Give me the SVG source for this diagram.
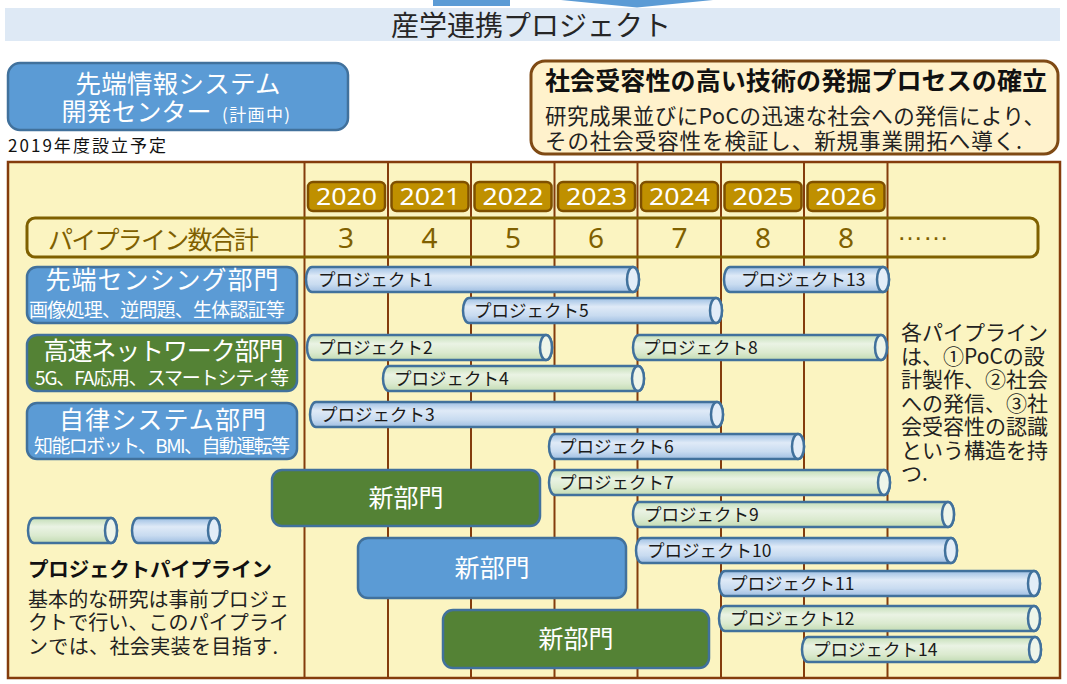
<svg xmlns="http://www.w3.org/2000/svg" width="1067" height="684" viewBox="0 0 1067 684">
<defs>
<linearGradient id="gB" x1="0" y1="0" x2="0" y2="1">
<stop offset="0" stop-color="#9dbfe3"/><stop offset="0.35" stop-color="#dfeaf7"/><stop offset="0.7" stop-color="#c8dbf0"/><stop offset="1" stop-color="#9fbee2"/>
</linearGradient>
<linearGradient id="gG" x1="0" y1="0" x2="0" y2="1">
<stop offset="0" stop-color="#c4deb7"/><stop offset="0.35" stop-color="#eaf3e4"/><stop offset="0.7" stop-color="#dbeacf"/><stop offset="1" stop-color="#c2dbb3"/>
</linearGradient>
<style>
text{font-family:"Noto Sans CJK JP","Noto Sans",sans-serif}
.pb{fill:url(#gB);stroke:#41719c;stroke-width:2.5}
.pg{fill:url(#gG);stroke:#41719c;stroke-width:2.5}
.cb{fill:#e3edf8;stroke:#41719c;stroke-width:2.5}
.cg{fill:#eef5ea;stroke:#41719c;stroke-width:2.5}
.pt{font-size:17.5px;fill:#1a1a1a}
.vl{stroke:#843c0c;stroke-width:2}
.dblue{fill:#5b9bd5;stroke:#41719c;stroke-width:2.5}
.dgreen{fill:#548235;stroke:#41719c;stroke-width:2.5}
.dt{font-size:25px;fill:#fff;text-anchor:middle}
.ds{font-size:19px;fill:#fff;text-anchor:middle}
.yb{fill:#bf9000;stroke:#7f5000;stroke-width:2.5}
.yt{font-size:23px;fill:#fff;text-anchor:middle;font-family:"Noto Sans",sans-serif}
.ct{font-size:28px;fill:#7f6000;text-anchor:middle;font-family:"Noto Sans",sans-serif}
.nt{font-size:25px;fill:#fff;text-anchor:middle}
.rt{font-size:21px;fill:#222}
.lt{font-size:20px;fill:#222}
</style>
</defs>

<g id="header">
<rect x="433" y="0" width="77" height="6" fill="#5b9bd5"/>
<polygon points="561,0 713,0 637,7.5" fill="#5b9bd5"/>
<rect x="5" y="8" width="1055" height="33" fill="#dee9f5"/>
<text x="531" y="36" font-size="28" fill="#262626" text-anchor="middle">産学連携プロジェクト</text>
</g>

<g id="center-box">
<rect x="8" y="63" width="340" height="67" rx="12" class="dblue"/>
<text x="178" y="93" font-size="25.5" fill="#fff" text-anchor="middle" textLength="205">先端情報システム</text>
<text x="61.5" y="120.5" font-size="25" fill="#fff">開発センター<tspan x="222" font-size="17" textLength="68">(計画中)</tspan></text>
<text x="8" y="152" font-size="17" fill="#111" textLength="158">2019年度設立予定</text>
</g>

<g id="goal-box">
<rect x="531" y="61" width="527" height="93" rx="14" fill="#fff2cc" stroke="#7f4a14" stroke-width="3"/>
<text x="545" y="90" font-size="25" font-weight="bold" fill="#111" textLength="502">社会受容性の高い技術の発掘プロセスの確立</text>
<text x="545" y="124" font-size="21.5" fill="#222" textLength="500">研究成果並びにPoCの迅速な社会への発信により、</text>
<text x="545" y="149" font-size="21.5" fill="#222" textLength="477">その社会受容性を検証し、新規事業開拓へ導く.</text>
</g>

<g id="panel">
<rect x="8" y="162" width="1052" height="516" fill="#fbf4c1" stroke="#843c0c" stroke-width="2.5"/>
<line class="vl" x1="304.5" y1="162" x2="304.5" y2="678"/>
<line class="vl" x1="388" y1="162" x2="388" y2="678"/>
<line class="vl" x1="471" y1="162" x2="471" y2="678"/>
<line class="vl" x1="554.5" y1="162" x2="554.5" y2="678"/>
<line class="vl" x1="637.5" y1="162" x2="637.5" y2="678"/>
<line class="vl" x1="721" y1="162" x2="721" y2="678"/>
<line class="vl" x1="804" y1="162" x2="804" y2="678"/>
<line class="vl" x1="887.5" y1="162" x2="887.5" y2="678"/>
</g>

<g id="years">
<rect class="yb" x="308" y="182" width="77" height="29" rx="5"/><text class="yt" x="346.5" y="205" textLength="61" lengthAdjust="spacingAndGlyphs">2020</text>
<rect class="yb" x="391.5" y="182" width="77" height="29" rx="5"/><text class="yt" x="430" y="205" textLength="61" lengthAdjust="spacingAndGlyphs">2021</text>
<rect class="yb" x="474.5" y="182" width="77" height="29" rx="5"/><text class="yt" x="513" y="205" textLength="61" lengthAdjust="spacingAndGlyphs">2022</text>
<rect class="yb" x="558" y="182" width="77" height="29" rx="5"/><text class="yt" x="596.5" y="205" textLength="61" lengthAdjust="spacingAndGlyphs">2023</text>
<rect class="yb" x="641" y="182" width="77" height="29" rx="5"/><text class="yt" x="679.5" y="205" textLength="61" lengthAdjust="spacingAndGlyphs">2024</text>
<rect class="yb" x="724.5" y="182" width="77" height="29" rx="5"/><text class="yt" x="763" y="205" textLength="61" lengthAdjust="spacingAndGlyphs">2025</text>
<rect class="yb" x="807.5" y="182" width="77" height="29" rx="5"/><text class="yt" x="846" y="205" textLength="61" lengthAdjust="spacingAndGlyphs">2026</text>
</g>

<g id="pipeline-count">
<rect x="27" y="218" width="1011" height="39" rx="8" fill="none" stroke="#7f6000" stroke-width="3"/>
<text x="48" y="249" font-size="25" fill="#7f6000" textLength="211">パイプライン数合計</text>
<text class="ct" x="346" y="248">3</text>
<text class="ct" x="429.5" y="248">4</text>
<text class="ct" x="513" y="248">5</text>
<text class="ct" x="596" y="248">6</text>
<text class="ct" x="679.5" y="248">7</text>
<text class="ct" x="763" y="248">8</text>
<text class="ct" x="846" y="248">8</text>
<text x="897" y="240" font-size="26" fill="#7f6000" style="font-family:'Liberation Sans',sans-serif">……</text>
</g>

<g id="dept-sensing">
<rect class="dblue" x="27" y="267" width="270" height="56" rx="10"/>
<text class="dt" x="162" y="289" textLength="233">先端センシング部門</text>
<text class="ds" x="157" y="317" textLength="256">画像処理、逆問題、生体認証等</text>
</g>
<g id="dept-network">
<rect class="dgreen" x="27" y="335" width="270" height="56" rx="10"/>
<text class="dt" x="163.5" y="360" textLength="240">高速ネットワーク部門</text>
<text class="ds" x="162" y="385" textLength="254">5G、FA応用、スマートシティ等</text>
</g>
<g id="dept-autonomous">
<rect class="dblue" x="27" y="403" width="270" height="56" rx="10"/>
<text class="dt" x="162.5" y="429" textLength="207">自律システム部門</text>
<text class="ds" x="162" y="453" textLength="256">知能ロボット、BMI、自動運転等</text>
</g>

<g id="new-dept-1">
<rect class="dgreen" x="272" y="470" width="268" height="56" rx="10"/>
<text class="nt" x="406" y="507">新部門</text>
</g>
<g id="new-dept-2">
<rect class="dblue" x="358" y="538" width="268" height="60" rx="10"/>
<text class="nt" x="492" y="577">新部門</text>
</g>
<g id="new-dept-3">
<rect class="dgreen" x="443" y="610" width="266" height="58" rx="10"/>
<text class="nt" x="576" y="648">新部門</text>
</g>

<g id="p1"><path class="pb" d="M312,267 H633 A6,12.5 0 0 1 633,292 H312 A6,12.5 0 0 1 312,267 Z"/><ellipse class="cb" cx="633" cy="279.5" rx="6" ry="12.5"/><text class="pt" x="318" y="286">プロジェクト1</text></g>
<g id="p13"><path class="pb" d="M730,267 H883 A6,12.5 0 0 1 883,292 H730 A6,12.5 0 0 1 730,267 Z"/><ellipse class="cb" cx="883" cy="279.5" rx="6" ry="12.5"/><text class="pt" x="741" y="286">プロジェクト13</text></g>
<g id="p5"><path class="pb" d="M469,298 H716 A6,12.5 0 0 1 716,323 H469 A6,12.5 0 0 1 469,298 Z"/><ellipse class="cb" cx="716" cy="310.5" rx="6" ry="12.5"/><text class="pt" x="474" y="317">プロジェクト5</text></g>
<g id="p2"><path class="pg" d="M313,335 H546 A6,12.5 0 0 1 546,360 H313 A6,12.5 0 0 1 313,335 Z"/><ellipse class="cg" cx="546" cy="347.5" rx="6" ry="12.5"/><text class="pt" x="318" y="354">プロジェクト2</text></g>
<g id="p8"><path class="pg" d="M639,335 H881 A6,12.5 0 0 1 881,360 H639 A6,12.5 0 0 1 639,335 Z"/><ellipse class="cg" cx="881" cy="347.5" rx="6" ry="12.5"/><text class="pt" x="643" y="354">プロジェクト8</text></g>
<g id="p4"><path class="pg" d="M389,366 H638 A6,12.5 0 0 1 638,391 H389 A6,12.5 0 0 1 389,366 Z"/><ellipse class="cg" cx="638" cy="378.5" rx="6" ry="12.5"/><text class="pt" x="394" y="385">プロジェクト4</text></g>
<g id="p3"><path class="pb" d="M316,402 H717 A6,12.5 0 0 1 717,427 H316 A6,12.5 0 0 1 316,402 Z"/><ellipse class="cb" cx="717" cy="414.5" rx="6" ry="12.5"/><text class="pt" x="320" y="421">プロジェクト3</text></g>
<g id="p6"><path class="pb" d="M555,434 H798 A6,12.5 0 0 1 798,459 H555 A6,12.5 0 0 1 555,434 Z"/><ellipse class="cb" cx="798" cy="446.5" rx="6" ry="12.5"/><text class="pt" x="559" y="453">プロジェクト6</text></g>
<g id="p7"><path class="pg" d="M555,470 H884 A6,12.5 0 0 1 884,495 H555 A6,12.5 0 0 1 555,470 Z"/><ellipse class="cg" cx="884" cy="482.5" rx="6" ry="12.5"/><text class="pt" x="559" y="489">プロジェクト7</text></g>
<g id="p9"><path class="pg" d="M639,502 H948 A6,12.5 0 0 1 948,527 H639 A6,12.5 0 0 1 639,502 Z"/><ellipse class="cg" cx="948" cy="514.5" rx="6" ry="12.5"/><text class="pt" x="644" y="521">プロジェクト9</text></g>
<g id="p10"><path class="pb" d="M642,538 H951 A6,12.5 0 0 1 951,563 H642 A6,12.5 0 0 1 642,538 Z"/><ellipse class="cb" cx="951" cy="550.5" rx="6" ry="12.5"/><text class="pt" x="647" y="557">プロジェクト10</text></g>
<g id="p11"><path class="pb" d="M725,571 H1034 A6,12.5 0 0 1 1034,596 H725 A6,12.5 0 0 1 725,571 Z"/><ellipse class="cb" cx="1034" cy="583.5" rx="6" ry="12.5"/><text class="pt" x="730" y="590">プロジェクト11</text></g>
<g id="p12"><path class="pg" d="M725,606 H1034 A6,12.5 0 0 1 1034,631 H725 A6,12.5 0 0 1 725,606 Z"/><ellipse class="cg" cx="1034" cy="618.5" rx="6" ry="12.5"/><text class="pt" x="730" y="625">プロジェクト12</text></g>
<g id="p14"><path class="pg" d="M808,637 H1035 A6,12.5 0 0 1 1035,662 H808 A6,12.5 0 0 1 808,637 Z"/><ellipse class="cg" cx="1035" cy="649.5" rx="6" ry="12.5"/><text class="pt" x="813" y="656">プロジェクト14</text></g>

<g id="note">
<text class="rt" x="901" y="340">各パイプライン</text>
<text class="rt" x="901" y="364">は、①PoCの設</text>
<text class="rt" x="901" y="387">計製作、②社会</text>
<text class="rt" x="901" y="411">への発信、③社</text>
<text class="rt" x="901" y="434">会受容性の認識</text>
<text class="rt" x="901" y="458">という構造を持</text>
<text class="rt" x="901" y="481">つ.</text>
</g>

<g id="legend">
<path class="pg" d="M34,518 H111 A6,12.5 0 0 1 111,543 H34 A6,12.5 0 0 1 34,518 Z"/><ellipse class="cg" cx="111" cy="530.5" rx="6" ry="12.5"/>
<path class="pb" d="M138,518 H214 A6,12.5 0 0 1 214,543 H138 A6,12.5 0 0 1 138,518 Z"/><ellipse class="cb" cx="214" cy="530.5" rx="6" ry="12.5"/>
<text x="28" y="577" font-size="20.5" font-weight="bold" fill="#111" textLength="244">プロジェクトパイプライン</text>
<text class="lt" x="28" y="607" textLength="261">基本的な研究は事前プロジェ</text>
<text class="lt" x="28" y="630" textLength="261">クトで行い、このパイプライ</text>
<text class="lt" x="28" y="654" textLength="250">ンでは、社会実装を目指す.</text>
</g>
</svg>
